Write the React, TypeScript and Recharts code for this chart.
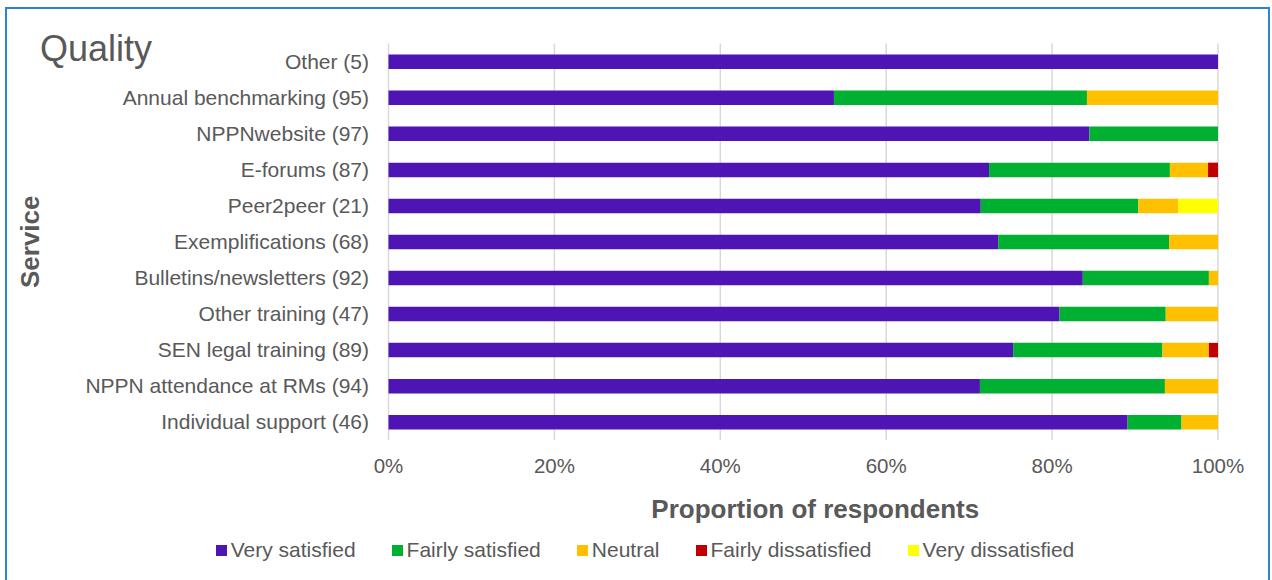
import { BarChart, Bar, XAxis, YAxis, CartesianGrid, Legend } from "recharts";

const services = [
  "Other (5)",
  "Annual benchmarking (95)",
  "NPPNwebsite (97)",
  "E-forums (87)",
  "Peer2peer (21)",
  "Exemplifications (68)",
  "Bulletins/newsletters (92)",
  "Other training (47)",
  "SEN legal training (89)",
  "NPPN attendance at RMs (94)",
  "Individual support (46)",
];

// percentages of respondents
const verySatisfied = [100, 53.7, 84.5, 72.4, 71.4, 73.5, 83.7, 80.9, 75.3, 71.3, 89.1];
const fairlySatisfied = [0, 30.5, 15.5, 21.8, 19.0, 20.6, 15.2, 12.8, 18.0, 22.3, 6.5];
const neutral = [0, 15.8, 0, 4.6, 4.8, 5.9, 1.1, 6.3, 5.6, 6.4, 4.4];
const fairlyDissatisfied = [0, 0, 0, 1.2, 0, 0, 0, 0, 1.1, 0, 0];
const veryDissatisfied = [0, 0, 0, 0, 4.8, 0, 0, 0, 0, 0, 0];

const xTicks = [0, 20, 40, 60, 80, 100];

const series = [
  { key: "verySatisfied", name: "Very satisfied", color: "#4E14B4" },
  { key: "fairlySatisfied", name: "Fairly satisfied", color: "#00B030" },
  { key: "neutral", name: "Neutral", color: "#FFC000" },
  { key: "fairlyDissatisfied", name: "Fairly dissatisfied", color: "#C00000" },
  { key: "veryDissatisfied", name: "Very dissatisfied", color: "#FFFF00" },
];

const data = services.map((name, i) => ({
  name,
  verySatisfied: verySatisfied[i],
  fairlySatisfied: fairlySatisfied[i],
  neutral: neutral[i],
  fairlyDissatisfied: fairlyDissatisfied[i],
  veryDissatisfied: veryDissatisfied[i],
}));

const FONT = '"Liberation Sans", Arial, sans-serif';
const GREY = "#595959";

function ServiceLabel({ viewBox }: any) {
  const cy = viewBox.y + viewBox.height / 2;
  const x = 39;
  return (
    <text
      x={x}
      y={cy}
      transform={`rotate(-90 ${x} ${cy})`}
      textAnchor="middle"
      fill={GREY}
      fontSize={26}
      fontWeight="bold"
      fontFamily={FONT}
    >
      Service
    </text>
  );
}

function ProportionLabel({ viewBox }: any) {
  const cx = viewBox.x + viewBox.width / 2 + 12;
  return (
    <text x={cx} y={518} textAnchor="middle" fill={GREY} fontSize={26} fontWeight="bold" fontFamily={FONT}>
      Proportion of respondents
    </text>
  );
}

// legend drawn in series order (recharts sorts by name otherwise)
function LegendContent() {
  return (
    <div
      style={{
        height: 30,
        display: "flex",
        alignItems: "center",
        justifyContent: "center",
        paddingLeft: 72,
        fontFamily: FONT,
        fontSize: 21,
        color: GREY,
      }}
    >
      {series.map((s, i) => (
        <div key={s.key} style={{ display: "flex", alignItems: "center", marginLeft: i === 0 ? 0 : 36 }}>
          <span style={{ width: 11, height: 11, background: s.color, marginRight: 4, display: "inline-block" }} />
          <span>{s.name}</span>
        </div>
      ))}
    </div>
  );
}

export default function App() {
  return (
    <div style={{ position: "absolute", left: 0, top: 0, width: 1272, height: 580, background: "#fff", overflow: "hidden" }}>
      <div
        style={{
          position: "absolute",
          left: 5,
          top: 7,
          width: 1265,
          height: 620,
          border: "2px solid #2C84D0",
          boxSizing: "border-box",
        }}
      />
      <div
        style={{
          position: "absolute",
          left: 40,
          top: 31,
          fontFamily: FONT,
          fontSize: 36,
          lineHeight: 1,
          color: GREY,
        }}
      >
        Quality
      </div>
      <BarChart
        width={1272}
        height={580}
        data={data}
        layout="vertical"
        margin={{ top: 43.5, right: 54, bottom: 15, left: 0 }}
        barSize={14.5}
      >
        <CartesianGrid horizontal={false} stroke="#D9D9D9" strokeWidth={1.5} />
        <XAxis
          type="number"
          domain={[0, 100]}
          ticks={xTicks}
          tickFormatter={(v) => `${v}%`}
          axisLine={false}
          tickLine={false}
          tickMargin={12}
          height={95}
          tick={{ fill: GREY, fontSize: 20.5, fontFamily: FONT }}
          label={<ProportionLabel />}
        />
        <YAxis
          type="category"
          dataKey="name"
          width={388.5}
          axisLine={false}
          tickLine={false}
          tickMargin={13.5}
          interval={0}
          tick={{ fill: GREY, fontSize: 21, fontFamily: FONT }}
          label={<ServiceLabel />}
        />
        <Legend verticalAlign="bottom" height={30} content={<LegendContent />} />
        {series.map((s) => (
          <Bar key={s.key} dataKey={s.key} name={s.name} stackId="a" fill={s.color} isAnimationActive={false} />
        ))}
      </BarChart>
    </div>
  );
}
